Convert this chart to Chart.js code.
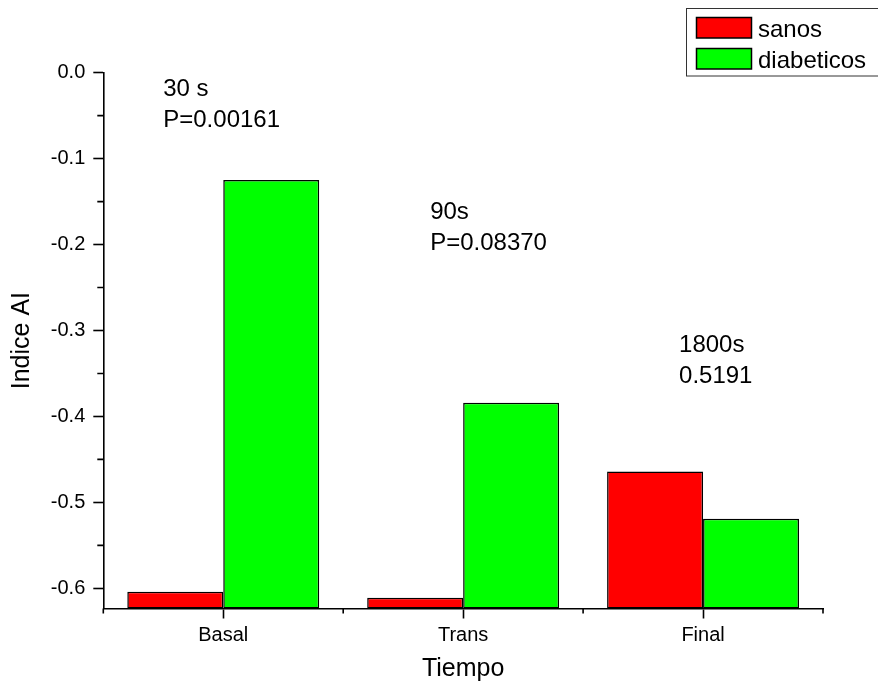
<!DOCTYPE html>
<html>
<head>
<meta charset="utf-8">
<script src="https://cdn.jsdelivr.net/npm/chart.js@4/dist/chart.umd.min.js"></script>
<style>
  html, body { margin: 0; padding: 0; background: #ffffff; }
  #wrap { width: 878px; height: 686px; }
</style>
</head>
<body>
<div id="wrap"><canvas id="c" width="878" height="686"></canvas></div>
<script>
// Indice AI por grupo y tiempo
const categories = ['Basal', 'Trans', 'Final'];
const sanos = [-0.604, -0.611, -0.464];
const diabeticos = [-0.125, -0.384, -0.519];
const seriesNames = ['sanos', 'diabeticos'];
const yTicks = [0.0, -0.1, -0.2, -0.3, -0.4, -0.5, -0.6];
const yMinorTicks = [-0.05, -0.15, -0.25, -0.35, -0.45, -0.55];
const notes = [['30 s', 'P=0.00161'], ['90s', 'P=0.08370'], ['1800s', '0.5191']];
const Y_MIN = -0.6235;
const Y_MAX = 0.0;

const FONT = "'Liberation Sans', Arial, Helvetica, sans-serif";
const AXIS_W = 1.6;

// where each note sits: horizontal shift from its category, baseline of first line (value units)
const noteLayout = [
  { dx: -60, y: -0.0271 },
  { dx: -33, y: -0.1706 },
  { dx: -24, y: -0.3250 }
];
const NOTE_LINE = 30.7;

const extras = {
  id: 'extras',
  afterDraw(chart) {
    const ctx = chart.ctx;
    const xs = chart.scales.x, ys = chart.scales.y;
    const area = chart.chartArea;
    ctx.save();
    ctx.strokeStyle = '#000';
    ctx.lineWidth = AXIS_W;
    // minor ticks on the value axis
    ctx.beginPath();
    yMinorTicks.forEach(v => {
      const py = ys.getPixelForValue(v);
      ctx.moveTo(area.left - 6, py);
      ctx.lineTo(area.left, py);
    });
    // minor ticks at the category boundaries
    const bounds = [area.left];
    for (let i = 0; i < categories.length - 1; i++) {
      bounds.push((xs.getPixelForValue(i) + xs.getPixelForValue(i + 1)) / 2);
    }
    bounds.push(area.right);
    bounds.forEach(px => {
      ctx.moveTo(px, area.bottom);
      ctx.lineTo(px, area.bottom + 5);
    });
    ctx.stroke();

    // notes above the bars
    ctx.fillStyle = '#000';
    ctx.font = '24px ' + FONT;
    ctx.textAlign = 'left';
    ctx.textBaseline = 'alphabetic';
    notes.forEach((lines, i) => {
      const px = xs.getPixelForValue(i) + noteLayout[i].dx;
      const py = ys.getPixelForValue(noteLayout[i].y);
      lines.forEach((t, k) => ctx.fillText(t, px, py + k * NOTE_LINE));
    });

    // legend box
    ctx.lineWidth = 1;
    ctx.strokeStyle = '#333';
    ctx.strokeRect(686.5, 8.5, 200, 67.5);
    const rows = [17.5, 48.5];
    chart.data.datasets.forEach((ds, i) => {
      ctx.fillStyle = ds.backgroundColor;
      ctx.fillRect(696.5, rows[i], 55, 20.5);
      ctx.lineWidth = 1.5;
      ctx.strokeStyle = '#000';
      ctx.strokeRect(696.5, rows[i], 55, 20.5);
      ctx.fillStyle = '#000';
      ctx.font = '24px ' + FONT;
      ctx.fillText(ds.label, 758, rows[i] + 19.5);
    });
    ctx.restore();
  }
};

new Chart(document.getElementById('c'), {
  type: 'bar',
  data: {
    labels: categories,
    datasets: [
      {
        label: seriesNames[0],
        data: sanos,
        backgroundColor: '#ff0000',
        borderColor: '#000000',
        borderWidth: 1.5,
        borderSkipped: false,
        base: Y_MIN,
        categoryPercentage: 0.8,
        barPercentage: 1.0
      },
      {
        label: seriesNames[1],
        data: diabeticos,
        backgroundColor: '#00ff00',
        borderColor: '#000000',
        borderWidth: 1.5,
        borderSkipped: false,
        base: Y_MIN,
        categoryPercentage: 0.8,
        barPercentage: 1.0
      }
    ]
  },
  options: {
    responsive: false,
    devicePixelRatio: 1,
    animation: false,
    layout: { padding: { top: 72.7, right: 55, left: 0, bottom: 0 } },
    plugins: {
      legend: { display: false },
      tooltip: { enabled: false }
    },
    scales: {
      x: {
        offset: true,
        grid: {
          offset: false,
          display: true,
          drawOnChartArea: false,
          drawTicks: true,
          tickLength: 10,
          tickWidth: AXIS_W,
          tickColor: '#000'
        },
        border: { display: true, color: '#000', width: AXIS_W },
        ticks: { font: { size: 20, family: FONT }, color: '#000', padding: 5 },
        title: {
          display: true,
          text: 'Tiempo',
          font: { size: 25, family: FONT },
          color: '#000',
          padding: { top: 0, bottom: 2 }
        },
        afterFit(s) { s.height = 77.5; }
      },
      y: {
        min: Y_MIN,
        max: Y_MAX,
        afterBuildTicks(s) { s.ticks = yTicks.map(v => ({ value: v })); },
        grid: {
          display: true,
          drawOnChartArea: false,
          drawTicks: true,
          tickLength: 10,
          tickWidth: AXIS_W,
          tickColor: '#000'
        },
        border: { display: true, color: '#000', width: AXIS_W },
        ticks: {
          font: { size: 20, family: FONT },
          color: '#000',
          padding: 8,
          autoSkip: false,
          callback: v => Number(v).toFixed(1)
        },
        title: {
          display: true,
          text: 'Indice AI',
          font: { size: 25, family: FONT },
          color: '#000',
          padding: { top: 7, bottom: 0 }
        },
        afterFit(s) { s.width = 103.3; }
      }
    }
  },
  plugins: [extras]
});
</script>
</body>
</html>
